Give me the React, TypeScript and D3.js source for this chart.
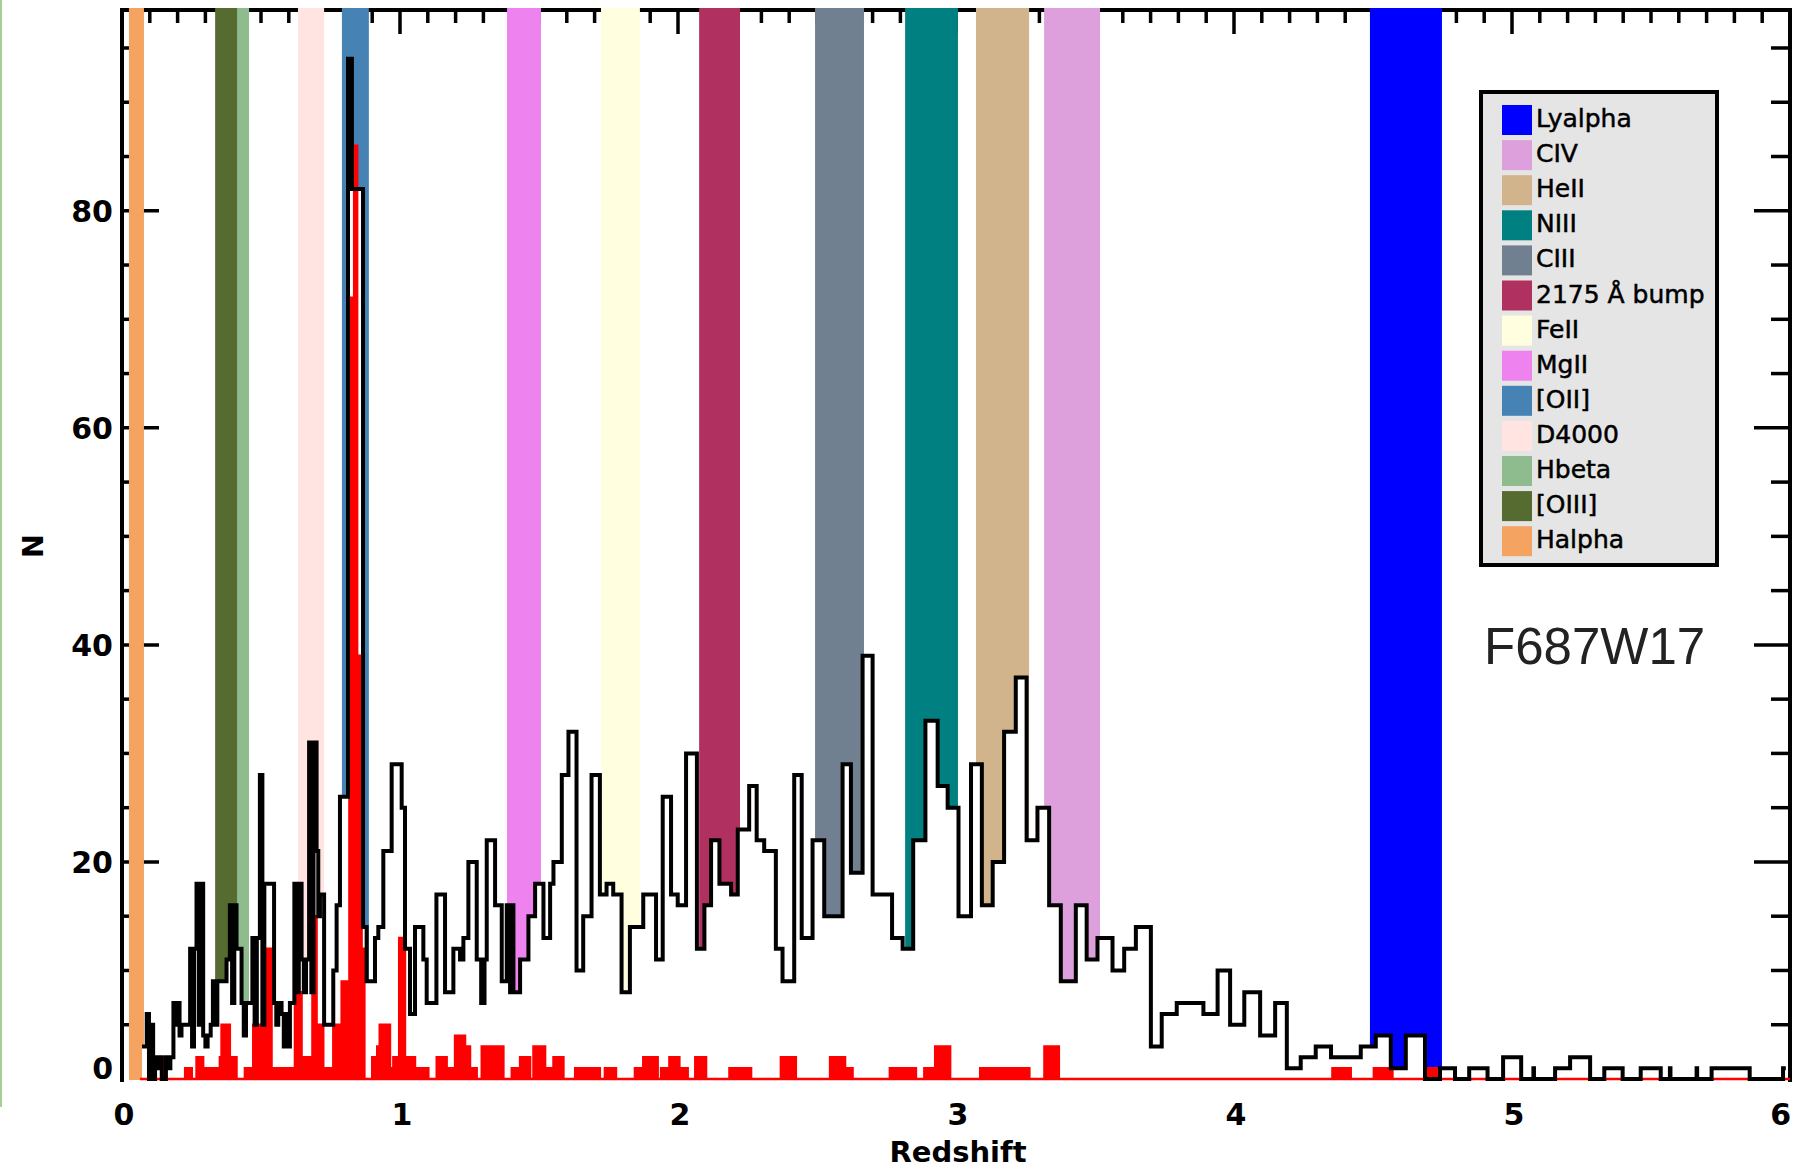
import * as d3 from "d3";

const W = 1804;
const H = 1171;

// emission-line windows, legend order (first one drawn first)
const bandNames = ["Lyalpha", "CIV", "HeII", "NIII", "CIII", "2175 Å bump", "FeII", "MgII", "[OII]", "D4000", "Hbeta", "[OIII]", "Halpha"];
const bandLo = [4.489, 3.317, 3.072, 2.817, 2.493, 2.076, 1.723, 1.385, 0.791, 0.633, 0.374, 0.335, 0.025];
const bandHi = [4.748, 3.518, 3.263, 3.007, 2.669, 2.223, 1.863, 1.507, 0.888, 0.727, 0.457, 0.414, 0.079];
const bandColors = ["#0000ff", "#dda0dd", "#d2b48c", "#008080", "#708090", "#b03060", "#ffffe0", "#ee82ee", "#4682b4", "#ffe4e1", "#8fbc8f", "#556b2f", "#f4a460"];

// black histogram (all objects): [left edge of step, count]
const allSteps: [number, number][] = [
  [0.072, 3], [0.089, 6], [0.097, 0], [0.105, 5], [0.112, 0], [0.119, 2], [0.126, 1], [0.133, 2],
  [0.143, 0], [0.158, 2], [0.166, 1], [0.174, 2], [0.185, 7], [0.193, 5], [0.200, 7], [0.207, 4],
  [0.214, 5], [0.245, 12], [0.252, 3], [0.259, 12], [0.268, 18], [0.276, 5], [0.284, 18], [0.292, 4],
  [0.300, 3], [0.308, 4], [0.319, 5], [0.327, 9], [0.335, 5], [0.343, 9], [0.376, 11], [0.388, 16],
  [0.396, 7], [0.404, 16], [0.412, 12], [0.430, 7], [0.438, 4], [0.446, 7], [0.469, 13], [0.477, 5],
  [0.485, 13], [0.496, 28], [0.505, 5], [0.512, 18], [0.547, 7], [0.555, 5], [0.562, 7], [0.574, 6],
  [0.582, 3], [0.590, 6], [0.597, 3], [0.604, 7], [0.620, 18], [0.628, 8], [0.636, 18], [0.646, 11],
  [0.654, 8], [0.662, 11], [0.673, 31], [0.681, 8], [0.689, 31], [0.700, 21], [0.706, 15], [0.712, 17],
  [0.727, 5], [0.760, 10], [0.772, 16], [0.784, 26], [0.813, 94], [0.827, 82], [0.867, 14], [0.880, 9],
  [0.910, 13], [0.922, 14], [0.940, 21], [0.970, 29], [1.006, 25], [1.018, 12], [1.036, 6], [1.054, 14],
  [1.084, 11], [1.096, 7], [1.131, 17], [1.162, 8], [1.192, 12], [1.216, 11], [1.228, 13], [1.246, 20],
  [1.276, 11], [1.292, 7], [1.304, 11], [1.312, 22], [1.342, 16], [1.366, 9], [1.384, 16], [1.396, 8],
  [1.402, 16], [1.408, 8], [1.432, 11], [1.462, 15], [1.486, 18], [1.516, 13], [1.540, 18], [1.552, 20],
  [1.582, 28], [1.606, 32], [1.635, 10], [1.659, 15], [1.689, 28], [1.719, 17], [1.743, 18], [1.767, 17],
  [1.797, 8], [1.827, 14], [1.875, 17], [1.921, 11], [1.945, 26], [1.975, 17], [1.999, 16], [2.029, 30],
  [2.068, 12], [2.095, 16], [2.119, 22], [2.149, 18], [2.191, 17], [2.215, 23], [2.256, 27], [2.283, 22],
  [2.310, 21], [2.352, 12], [2.376, 9], [2.418, 28], [2.445, 13], [2.484, 22], [2.526, 15], [2.592, 29],
  [2.622, 19], [2.664, 39], [2.700, 17], [2.770, 13], [2.808, 12], [2.846, 22], [2.890, 33], [2.934, 27],
  [2.970, 25], [3.009, 15], [3.054, 29], [3.093, 16], [3.132, 20], [3.173, 32], [3.215, 37], [3.254, 22],
  [3.293, 25], [3.335, 16], [3.377, 9], [3.431, 16], [3.470, 11], [3.509, 13], [3.563, 10], [3.605, 12],
  [3.647, 14], [3.701, 3], [3.740, 6], [3.794, 7], [3.890, 6], [3.941, 10], [3.986, 5], [4.037, 8],
  [4.094, 4], [4.148, 7], [4.190, 1], [4.240, 2], [4.294, 3], [4.349, 2], [4.456, 3], [4.510, 4],
  [4.564, 1], [4.618, 4], [4.687, 0], [4.741, 1], [4.795, 0], [4.846, 1], [4.912, 0], [4.968, 2],
  [5.033, 0], [5.077, 1], [5.079, 0], [5.155, 1], [5.209, 2], [5.281, 0], [5.332, 1], [5.398, 0],
  [5.463, 1], [5.535, 0], [5.568, 1], [5.570, 0], [5.664, 1], [5.666, 0], [5.718, 1], [5.855, 0],
  [5.975, 1],
];
const allEnd = 5.985;

// red histogram: [left edge of step, count]
const specSteps: [number, number][] = [
  [0.065, 0], [0.143, 2], [0.158, 0], [0.227, 1], [0.251, 0], [0.268, 2], [0.292, 1], [0.352, 2],
  [0.358, 5], [0.388, 2], [0.412, 0], [0.442, 1], [0.472, 5], [0.508, 12], [0.538, 1], [0.604, 0],
  [0.612, 1], [0.622, 8], [0.646, 2], [0.685, 15], [0.700, 5], [0.724, 1], [0.760, 5], [0.790, 9],
  [0.818, 72], [0.835, 86], [0.846, 39], [0.862, 12], [0.872, 0], [0.900, 2], [0.918, 3], [0.927, 5],
  [0.964, 1], [0.976, 2], [0.997, 13], [1.018, 2], [1.054, 1], [1.078, 1], [1.102, 0], [1.132, 2],
  [1.168, 1], [1.198, 4], [1.234, 3], [1.252, 1], [1.276, 0], [1.294, 3], [1.372, 0], [1.402, 1],
  [1.432, 2], [1.468, 0], [1.480, 3], [1.522, 1], [1.552, 2], [1.588, 0], [1.630, 1], [1.719, 0],
  [1.737, 1], [1.777, 0], [1.845, 1], [1.875, 2], [1.927, 0], [1.939, 1], [1.969, 2], [2.005, 1],
  [2.035, 0], [2.062, 2], [2.101, 0], [2.185, 1], [2.263, 0], [2.370, 2], [2.424, 0], [2.547, 2],
  [2.601, 1], [2.628, 0], [2.762, 1], [2.856, 0], [2.886, 1], [2.925, 3], [2.979, 0], [3.087, 1],
  [3.264, 0], [3.318, 3], [3.370, 0], [4.354, 1], [4.420, 0], [4.503, 1], [4.570, 0], [4.695, 1],
  [4.734, 0],
];
const specEnd = 6.0;

const xTicks = [0, 1, 2, 3, 4, 5, 6];
const yTicks = [0, 20, 40, 60, 80];
const filterName = "F687W17";

const FONT = "DejaVu Sans";

function App() {
  const x = d3.scaleLinear().domain([0, 6]).range([122, 1790]);
  const y = d3.scaleLinear().domain([0, 98.5]).range([1079, 10]);

  const close = (s: [number, number][], end: number) =>
    s.concat([[end, s[s.length - 1][1]]]);
  const allPts = close(allSteps, allEnd);
  const specPts = close(specSteps, specEnd);

  const line = d3
    .line<[number, number]>()
    .x((d) => x(d[0]))
    .y((d) => y(d[1]))
    .curve(d3.curveStepAfter);
  const area = d3
    .area<[number, number]>()
    .x((d) => x(d[0]))
    .y0(y(0))
    .y1((d) => y(d[1]))
    .curve(d3.curveStepAfter);

  const top = 10;
  const left = x(0);
  const right = x(6);
  const base = y(0);

  const minorX = d3.range(1, 60).filter((i) => i % 10 !== 0).map((i) => i / 10);
  const majorX = [1, 2, 3, 4, 5];
  const minorY = d3.range(5, 100, 5).filter((v) => v % 20 !== 0);
  const majorY = [20, 40, 60, 80];

  return (
    <svg
      width={W}
      height={H}
      style={{ position: "absolute", left: 0, top: 0, background: "#fff" }}
    >
      <rect x={0} y={0} width={W} height={H} fill="#fff" />
      <line x1={1} x2={1} y1={0} y2={1107} stroke="#a4d098" strokeWidth={2} />

      {/* frame and ticks */}
      <g stroke="#000" strokeWidth={3.5}>
        {minorX.map((v) => (
          <line key={"tx" + v} x1={x(v)} x2={x(v)} y1={top} y2={23} />
        ))}
        {majorX.map((v) => (
          <line key={"TX" + v} x1={x(v)} x2={x(v)} y1={top} y2={34} />
        ))}
        {minorY.map((v) => (
          <g key={"ty" + v}>
            <line x1={left} x2={left + 19} y1={y(v)} y2={y(v)} />
            <line x1={right} x2={right - 19} y1={y(v)} y2={y(v)} />
          </g>
        ))}
        {majorY.map((v) => (
          <g key={"TY" + v}>
            <line x1={left} x2={left + 37} y1={y(v)} y2={y(v)} />
            <line x1={right} x2={right - 36} y1={y(v)} y2={y(v)} />
          </g>
        ))}
      </g>
      <g stroke="#000" strokeWidth={4}>
        <line x1={left - 2} x2={right + 2} y1={top} y2={top} />
        <line x1={left} x2={left} y1={top - 2} y2={base + 3} />
        <line x1={right} x2={right} y1={top - 2} y2={base + 3} />
      </g>

      {/* line windows */}
      {bandNames.map((name, i) => (
        <rect
          key={name}
          x={x(bandLo[i])}
          y={8}
          width={x(bandHi[i]) - x(bandLo[i])}
          height={base + 1 - 8}
          fill={bandColors[i]}
        />
      ))}

      {/* histograms */}
      <path d={area(allPts) || ""} fill="#fff" />
      <path
        d={area(specPts) || ""}
        fill="#ff0000"
        stroke="#ff0000"
        strokeWidth={2.4}
      />
      <path
        d={line(allPts) || ""}
        fill="none"
        stroke="#000"
        strokeWidth={4}
        strokeLinejoin="miter"
      />

      {/* tick labels */}
      <g fontFamily={FONT} fontWeight="bold" fontSize={30} fill="#000">
        {yTicks.map((v) => (
          <text key={"ly" + v} x={113} y={(v === 0 ? 1068 : y(v)) + 11} textAnchor="end">
            {v}
          </text>
        ))}
        {xTicks.map((v) => (
          <text
            key={"lx" + v}
            x={v === 6 ? right + 1 : x(v) + 2}
            y={1125}
            textAnchor={v === 6 ? "end" : "middle"}
          >
            {v}
          </text>
        ))}
      </g>
      <text
        x={958}
        y={1162}
        textAnchor="middle"
        fontFamily={FONT}
        fontWeight="bold"
        fontSize={29}
      >
        Redshift
      </text>
      <text
        transform="translate(43,546) rotate(-90)"
        textAnchor="middle"
        fontFamily={FONT}
        fontWeight="bold"
        fontSize={29}
      >
        N
      </text>

      {/* legend */}
      <rect x={1481} y={92} width={236} height={473} fill="#e5e5e5" stroke="#000" strokeWidth={4} />
      {bandNames.map((name, i) => {
        const ty = 105 + i * 35.1;
        return (
          <g key={"lg" + name}>
            <rect x={1502} y={ty} width={30} height={30} fill={bandColors[i]} />
            <text
              x={1536}
              y={ty + 22}
              fontFamily={FONT}
              fontSize={25}
              fill="#000"
              stroke="#000"
              strokeWidth={0.5}
            >
              {name}
            </text>
          </g>
        );
      })}

      <text x={1484} y={664} fontFamily="Liberation Sans" fontSize={51} fill="#222">
        {filterName}
      </text>
    </svg>
  );
}

export default App;
